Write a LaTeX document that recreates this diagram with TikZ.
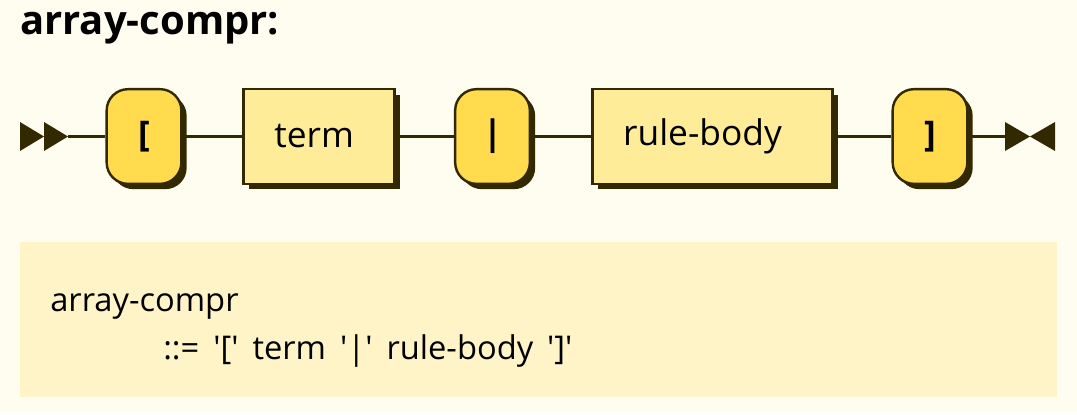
\documentclass[tikz,border=0pt]{standalone}
\usepackage{fontspec}
\setmainfont{Open Sans}
\usepackage{tikz}
\usetikzlibrary{shadows}
\definecolor{rrbg}{HTML}{FFFCF0}
\definecolor{rrline}{HTML}{332900}
\definecolor{rrterm}{HTML}{FFDB4D}
\definecolor{rrnonterm}{HTML}{FFEC99}
\definecolor{rrebnf}{HTML}{FFF4C7}
\newcommand{\ebnfspace}{\spaceskip=10.5pt\relax}

\begin{document}
\begin{tikzpicture}[x=0.75pt,y=-0.75pt]
\tikzstyle{box} = [draw=rrline, line width=1.8pt, minimum height=71pt, inner sep=0pt, font=\fontsize{26.5}{30}\selectfont, drop shadow={shadow xshift=4pt, shadow yshift=-4pt, fill=rrline, opacity=1}]
\tikzstyle{terminal} = [box, fill=rrterm, rounded corners=16pt, minimum width=56pt, font=\bfseries\fontsize{26.5}{30}\selectfont]
\tikzstyle{nonterminal} = [box, fill=rrnonterm, text width=#1, align=left, inner xsep=23pt]
\tikzstyle{wire} = [rrline, line width=1.8pt]
\tikzstyle{tip} = [fill=rrline]
\tikzstyle{ebnf} = [anchor=base west, inner sep=0pt, font=\fontsize{24.5}{28}\selectfont]
  \useasboundingbox (0,0) rectangle (1077,414);
  \fill [rrbg] (0,0) rectangle (1077,414);

  \node (title) [anchor=base west, inner sep=0pt, font=\bfseries\fontsize{30}{34}\selectfont] at (20,34) {array-compr:};

  \draw
  node (lb) [terminal] at (144,136.5) {[}
  node (term) [nonterminal=67pt] at (319,136.5) {term}
  node (bar) [terminal] at (492.5,136.5) {|}
  node (body) [nonterminal=134pt] at (712.5,136.5) {rule-body}
  node (rb) [terminal] at (930,136.5) {]};

  \coordinate (start) at (68,136.5);
  \coordinate (finish) at (1005,136.5);

  % start and end marks
  \fill [tip] (20,122) -- (44,136.5) -- (20,151) -- cycle;
  \fill [tip] (44,122) -- (68,136.5) -- (44,151) -- cycle;
  \fill [tip] (1005,122) -- (1030,136.5) -- (1005,151) -- cycle;
  \fill [tip] (1055,122) -- (1030,136.5) -- (1055,151) -- cycle;

  \draw [wire] (start) -- (lb);
  \draw [wire] (lb) -- (term);
  \draw [wire] (term) -- (bar);
  \draw [wire] (bar) -- (body);
  \draw [wire] (body) -- (rb);
  \draw [wire] (rb) -- (finish);

  \fill [rrebnf] (20,242) rectangle (1057,397);
  \node (rulename) [ebnf] at (50,311) {array-compr};
  \node (ruledef) [ebnf] at (163,359) {\ebnfspace ::= \textquotesingle[\textquotesingle{} term \textquotesingle|\textquotesingle{} rule-body \textquotesingle]\textquotesingle};
\end{tikzpicture}
\end{document}
